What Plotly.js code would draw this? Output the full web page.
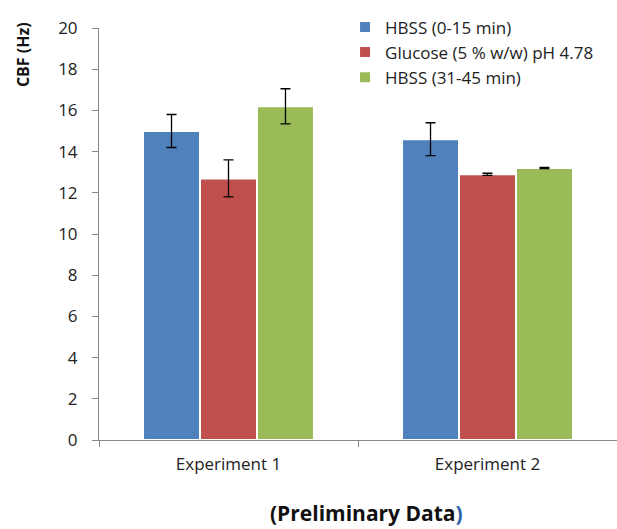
<!DOCTYPE html>
<html>
<head>
<meta charset="utf-8">
<script src="https://cdn.plot.ly/plotly-3.0.1.min.js"></script>
<style>html,body{margin:0;padding:0;background:#fff}#chart{width:617px;height:529px}</style>
</head>
<body>
<div id="chart"></div>
<script>
const categories = ["Experiment 1", "Experiment 2"];
const seriesNames = ["HBSS (0-15 min)", "Glucose (5 % w/w) pH 4.78", "HBSS (31-45 min)"];
const hbss0_15 = [15.0, 14.6];
const hbss0_15Err = [0.8, 0.8];
const glucose = [12.7, 12.9];
const glucoseErr = [0.9, 0.05];
const hbss31_45 = [16.2, 13.2];
const hbss31_45Err = [0.85, 0.03];
const yTicks = [0, 2, 4, 6, 8, 10, 12, 14, 16, 18, 20];
const colors = ["#4f81bd", "#c0504d", "#9bbb59"];

const values = [hbss0_15, glucose, hbss31_45];
const errs = [hbss0_15Err, glucoseErr, hbss31_45Err];
const FONT = "Open Sans, Liberation Sans, sans-serif";

const traces = values.map((v, i) => ({
  type: "bar",
  name: seriesNames[i],
  x: categories,
  y: v,
  marker: { color: colors[i], line: { color: "#ffffff", width: 2 } },
  error_y: { type: "data", array: errs[i], visible: true, color: "#000", thickness: 1.3, width: 5 }
}));

const layout = {
  width: 617, height: 529,
  margin: { l: 99, r: 0, t: 28, b: 89 },
  paper_bgcolor: "#fff", plot_bgcolor: "#fff",
  barmode: "group",
  bargap: 0.34, bargroupgap: 0,
  font: { family: FONT, size: 17, color: "#333" },
  showlegend: true,
  legend: { x: 0.475, y: 1.045, xanchor: "left", yanchor: "top", font: { family: FONT, size: 17, color: "#222" }, tracegroupgap: 0, bgcolor: "rgba(0,0,0,0)" },
  xaxis: {
    showline: true, linecolor: "#888", linewidth: 1,
    ticks: "outside", tickson: "boundaries", ticklen: 6, tickcolor: "#888",
    ticklabelstandoff: 9,
    tickfont: { family: FONT, size: 17, color: "#222" },
    showgrid: false, zeroline: false
  },
  yaxis: {
    range: [0, 20], tickvals: yTicks, showline: true, linecolor: "#888", linewidth: 1,
    ticks: "outside", ticklen: 6, tickcolor: "#888",
    ticklabelstandoff: 11,
    tickfont: { family: FONT, size: 17, color: "#222" },
    showgrid: false, zeroline: false
  },
  annotations: [
    { text: "<b>CBF (Hz)</b>", xref: "paper", yref: "paper", x: -0.148, y: 0.935, xanchor: "center", yanchor: "middle", textangle: -90, showarrow: false, font: { family: FONT, size: 16, color: "#111" } },
    { text: "<b>(Preliminary Data<span style='color:#2e5fa8'>)</span></b>", xref: "paper", yref: "paper", x: 0.517, y: -0.177, xanchor: "center", yanchor: "middle", showarrow: false, font: { family: FONT, size: 21, color: "#111" } }
  ]
};

Plotly.newPlot("chart", traces, layout, { displayModeBar: false, staticPlot: true });
</script>
</body>
</html>
